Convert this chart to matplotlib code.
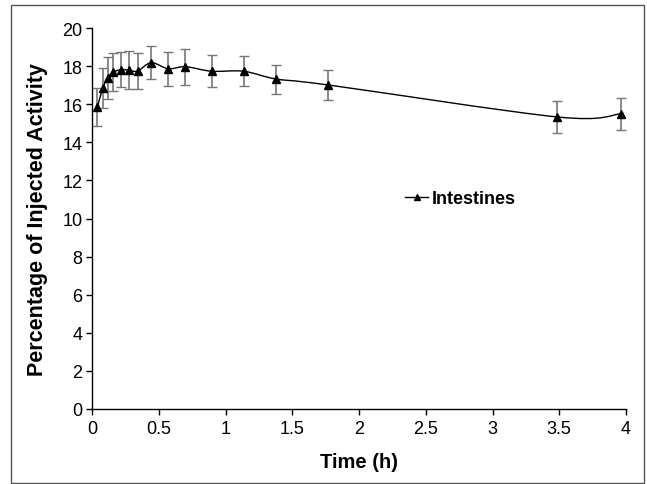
import numpy as np
import matplotlib.pyplot as plt
from matplotlib.path import Path
from matplotlib.patches import PathPatch, Rectangle

time_h = [0.04, 0.08, 0.117, 0.155, 0.215, 0.28, 0.342, 0.444, 0.571, 0.70, 0.896, 1.136, 1.381, 1.768, 3.486, 3.96]
activity = [15.83, 16.83, 17.38, 17.67, 17.81, 17.78, 17.74, 18.18, 17.86, 17.97, 17.73, 17.73, 17.32, 17.01, 15.33, 15.49]
error = [1.0, 1.05, 1.1, 1.0, 0.92, 1.0, 0.95, 0.85, 0.88, 0.95, 0.85, 0.8, 0.76, 0.8, 0.82, 0.82]
xticks = [0, 0.5, 1, 1.5, 2, 2.5, 3, 3.5, 4]
yticks = list(range(0, 21, 2))

plt.rcParams['font.family'] = ['Liberation Sans', 'DejaVu Sans']

fig = plt.figure(figsize=(6.47, 4.85), dpi=100)
ax = fig.add_axes([92/647, 1-410/485, 534/647, 381/485])

# outer frame like the original export
fig.patches.append(Rectangle((11/647, 0.002), 633/647, 1-6/485-0.002, transform=fig.transFigure,
                             fill=False, edgecolor='#555555', linewidth=1.0))

# smoothed line (Catmull-Rom style bezier, like Excel's smoothed lines)
x = np.array(time_h)
y = np.array(activity)
verts = [(x[0], y[0])]
codes = [Path.MOVETO]
for i in range(len(x)-1):
    p0 = np.array([x[max(i-1, 0)], y[max(i-1, 0)]])
    p1 = np.array([x[i], y[i]])
    p2 = np.array([x[i+1], y[i+1]])
    p3 = np.array([x[min(i+2, len(x)-1)], y[min(i+2, len(x)-1)]])
    c1 = p1 + (p2 - p0) / 6
    c2 = p2 - (p3 - p1) / 6
    verts += [tuple(c1), tuple(c2), tuple(p2)]
    codes += [Path.CURVE4] * 3
ax.add_patch(PathPatch(Path(verts, codes), fill=False, edgecolor='black', linewidth=1.0))

eb = ax.errorbar(time_h, activity, yerr=error, fmt='none', ecolor='#777777', elinewidth=1.2,
                 capsize=3.5, capthick=1.0)
for cap in eb[1]:
    cap.set_color('black')
ax.plot(time_h, activity, linestyle='none', marker='^', color='black', markersize=6)

# legend handle
ax.plot([], [], color='black', marker='^', markersize=5, linewidth=1.0, label='Intestines')
ax.legend(loc='center left', bbox_to_anchor=(0.586, 0.552), frameon=False, handlelength=1.3,
          handletextpad=0.2, borderpad=0, borderaxespad=0, prop={'weight': 'bold', 'size': 13})

ax.set_xlim(0, 4)
ax.set_ylim(0, 20)
ax.set_xticks(xticks)
ax.set_xticklabels(['0', '0.5', '1', '1.5', '2', '2.5', '3', '3.5', '4'])
ax.set_yticks(yticks)
ax.tick_params(direction='out', length=4, width=1, labelsize=13)
ax.tick_params(axis='x', pad=4)
ax.tick_params(axis='y', pad=3)
for s in ['top', 'right']:
    ax.spines[s].set_visible(False)
for s in ['left', 'bottom']:
    ax.spines[s].set_linewidth(1.0)

ax.set_xlabel('Time (h)', fontsize=14.5, fontweight='bold', labelpad=11)
ax.set_ylabel('Percentage of Injected Activity', fontsize=15.5, fontweight='bold', labelpad=10)

fig.savefig('out.png', dpi=100)
